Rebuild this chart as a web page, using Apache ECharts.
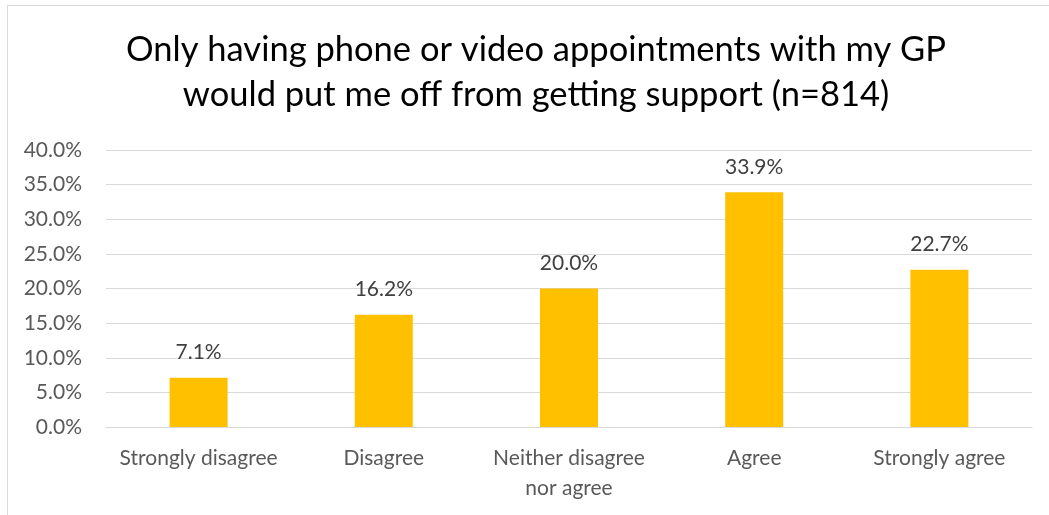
<!DOCTYPE html>
<html>
<head>
<meta charset="utf-8">
<script src="https://cdn.jsdelivr.net/npm/echarts@6/dist/echarts.min.js"></script>
<style>
html,body{margin:0;padding:0;background:#fff;}
#frame{position:absolute;left:7px;top:5px;width:1100px;height:600px;border-left:1px solid #d9d9d9;border-top:1px solid #d9d9d9;}
#c{position:absolute;left:0;top:0;width:1049px;height:515px;}
</style>
</head>
<body>
<div id="frame"></div>
<div id="c"></div>
<script>
const categories = ["Strongly disagree", "Disagree", "Neither disagree\nnor agree", "Agree", "Strongly agree"];
const values = [7.1, 16.2, 20.0, 33.9, 22.7];
const titleText = "Only having phone or video appointments with my GP\nwould put me off from getting support (n=814)";
const yTicks = { min: 0, max: 40, interval: 5 };

const font = "Lato, 'Open Sans', sans-serif";
const chart = echarts.init(document.getElementById('c'), null, {renderer: 'canvas'});
chart.setOption({
  animation: false,
  title: {
    text: titleText,
    left: 531, top: 22, textAlign: 'center',
    textStyle: {fontFamily: font, fontSize: 34.5, fontWeight: 'normal', color: '#000', lineHeight: 45}
  },
  grid: {left: 106, right: 17, top: 150, bottom: 88, containLabel: false},
  xAxis: {
    type: 'category', data: categories,
    axisLine: {lineStyle: {color: '#d9d9d9', width: 1}},
    axisTick: {show: false},
    axisLabel: {fontFamily: font, fontSize: 21, color: '#595959', margin: 16, lineHeight: 30, interval: 0}
  },
  yAxis: {
    type: 'value', min: yTicks.min, max: yTicks.max, interval: yTicks.interval,
    axisLine: {show: false}, axisTick: {show: false},
    splitLine: {lineStyle: {color: '#d9d9d9', width: 1}},
    axisLabel: {fontFamily: font, fontSize: 21, color: '#595959', margin: 24,
      formatter: v => v.toFixed(1) + '%'}
  },
  series: [{
    type: 'bar', data: values, barWidth: 58,
    itemStyle: {color: '#FFC000'},
    label: {show: true, position: 'top', distance: 15, fontFamily: font, fontSize: 21, color: '#404040',
      formatter: p => p.value.toFixed(1) + '%'}
  }]
});
</script>
</body>
</html>
